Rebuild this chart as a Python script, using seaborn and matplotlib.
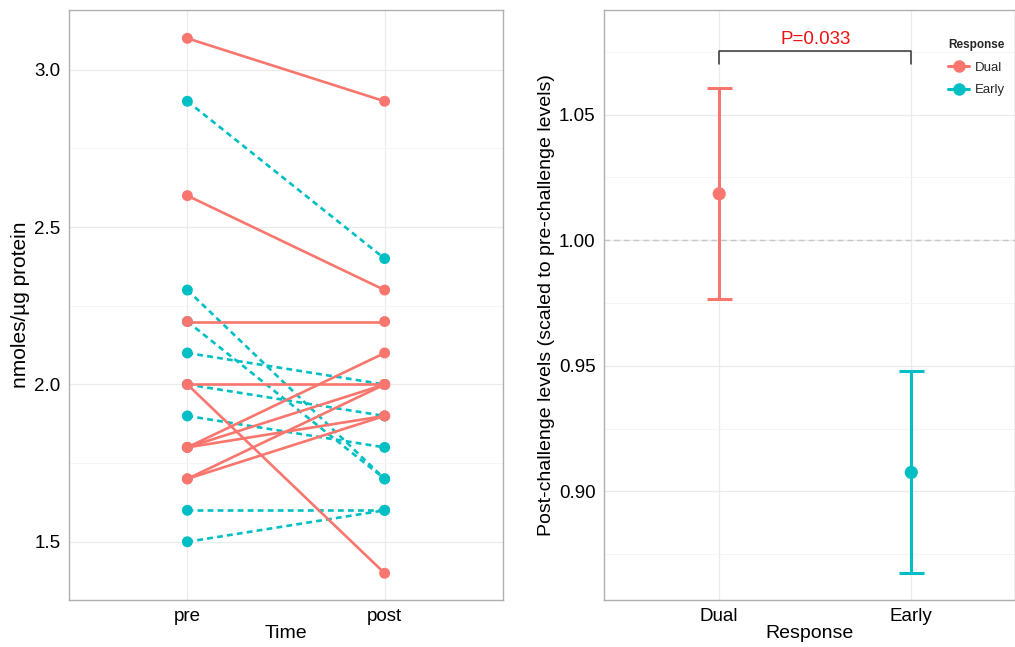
import numpy as np
import pandas as pd
import matplotlib
matplotlib.use("Agg")
import matplotlib.pyplot as plt
from matplotlib.lines import Line2D
import seaborn as sns

# 数据: 左图 pre/post 配对值
dual_pre = [3.1, 2.6, 2.2, 2.0, 2.0, 1.8, 1.8, 1.8, 1.7, 1.7]
dual_post = [2.9, 2.3, 2.2, 2.0, 1.4, 2.1, 2.0, 1.9, 2.0, 1.9]
early_pre = [2.9, 2.3, 2.2, 2.1, 2.0, 1.9, 1.6, 1.5]
early_post = [2.4, 1.7, 1.7, 2.0, 1.9, 1.8, 1.6, 1.6]
time_labels = ["pre", "post"]

# 右图: 均值与置信区间
groups = ["Dual", "Early"]
group_mean = [1.0185, 0.9075]
group_lo = [0.9765, 0.8675]
group_hi = [1.0605, 0.9480]
p_text = "P=0.033"

RED = "#F8766D"
CYAN = "#00BFC4"
palette = {"Dual": RED, "Early": CYAN}

sns.set_theme(style="white")
plt.rcParams['font.family'] = ['Liberation Sans', 'DejaVu Sans']

rows = []
pid = 0
for resp, pre, post in [("Early", early_pre, early_post), ("Dual", dual_pre, dual_post)]:
    for a, b in zip(pre, post):
        rows.append({"id": pid, "Response": resp, "Time": "pre", "value": a})
        rows.append({"id": pid, "Response": resp, "Time": "post", "value": b})
        pid += 1
df = pd.DataFrame(rows)
df["x"] = df["Time"].map({"pre": 0, "post": 1})

fig = plt.figure(figsize=(10.15, 6.47), dpi=100)
ax1 = fig.add_axes([69 / 1015, 1 - 600 / 647, (503 - 69) / 1015, (600 - 10) / 647])
ax2 = fig.add_axes([604 / 1015, 1 - 600 / 647, (1015 - 604) / 1015, (600 - 10) / 647])


def style_axes(ax):
    for s in ax.spines.values():
        s.set_color("#B0B0B0")
        s.set_linewidth(1.0)
    ax.set_axisbelow(True)
    ax.grid(True, which="major", color="#EBEBEB", lw=0.9)
    ax.grid(True, which="minor", axis="y", color="#F5F5F5", lw=0.7)
    ax.tick_params(axis="both", which="major", length=4, width=0.9, color="#444444",
                   labelsize=13.5, labelcolor="black", pad=2)
    ax.tick_params(axis="both", which="minor", length=0)


# 左图
sns.lineplot(data=df, x="x", y="value", hue="Response", style="Response", units="id",
             estimator=None, palette=palette, dashes={"Dual": "", "Early": (2.2, 1.6)},
             lw=1.9, legend=False, ax=ax1, zorder=2)
sns.scatterplot(data=df, x="x", y="value", hue="Response", palette=palette, s=62,
                edgecolor="none", legend=False, ax=ax1, zorder=3)
ax1.set_xlim(-0.6, 1.6)
ax1.set_ylim(1.315, 3.19)
ax1.set_xticks([0, 1])
ax1.set_xticklabels(time_labels)
ax1.set_yticks([1.5, 2.0, 2.5, 3.0])
ax1.set_yticks([1.75, 2.25, 2.75], minor=True)
style_axes(ax1)
ax1.set_xlabel("Time", fontsize=14, labelpad=0, color="black")
ax1.set_ylabel("nmoles/µg protein", fontsize=15, labelpad=3, color="black")

# 右图
ax2.axhline(1.0, color="#C8C8C8", ls=(0, (4, 3)), lw=1.0, zorder=1)
sdf = pd.DataFrame({"Response": groups, "mean": group_mean, "lo": group_lo, "hi": group_hi})
sdf["x"] = np.arange(len(groups))
for _, r in sdf.iterrows():
    ax2.errorbar(r["x"], r["mean"], yerr=[[r["mean"] - r["lo"]], [r["hi"] - r["mean"]]],
                 fmt="none", ecolor=palette[r["Response"]], elinewidth=2.2, capsize=9,
                 capthick=2.2, zorder=2)
sns.scatterplot(data=sdf, x="x", y="mean", hue="Response", palette=palette, s=90,
                edgecolor="none", legend=False, ax=ax2, zorder=3)
ax2.set_xlim(-0.6, 1.54)
ax2.set_ylim(0.8567, 1.0917)
ax2.set_xticks([0, 1])
ax2.set_xticklabels(groups)
ax2.set_yticks([0.90, 0.95, 1.00, 1.05])
ax2.set_yticks([0.875, 0.925, 0.975, 1.025, 1.075], minor=True)
style_axes(ax2)
ax2.set_xlabel("Response", fontsize=14, labelpad=0, color="black")
ax2.set_ylabel("Post-challenge levels (scaled to pre-challenge levels)", fontsize=14,
               labelpad=3, color="black")

# 显著性括号
ax2.plot([0, 0, 1, 1], [1.0702, 1.0752, 1.0752, 1.0702], color="#333333", lw=1.1, zorder=3)
ax2.text(0.5, 1.0765, p_text, color="#EE1111", fontsize=13.5, ha="center", va="bottom")

handles = [Line2D([0], [0], color=palette[g], lw=2.2, marker="o", markersize=8) for g in groups]
leg = ax2.legend(handles, groups, title="Response", loc="upper left",
                 bbox_to_anchor=(0.825, 0.96), frameon=False, fontsize=9.5,
                 title_fontsize=8.5, handlelength=1.6, borderaxespad=0, labelspacing=0.8,
                 handletextpad=0.4)
leg.get_title().set_fontweight("bold")
leg._legend_box.align = "left"

fig.savefig("out.png", dpi=100)
